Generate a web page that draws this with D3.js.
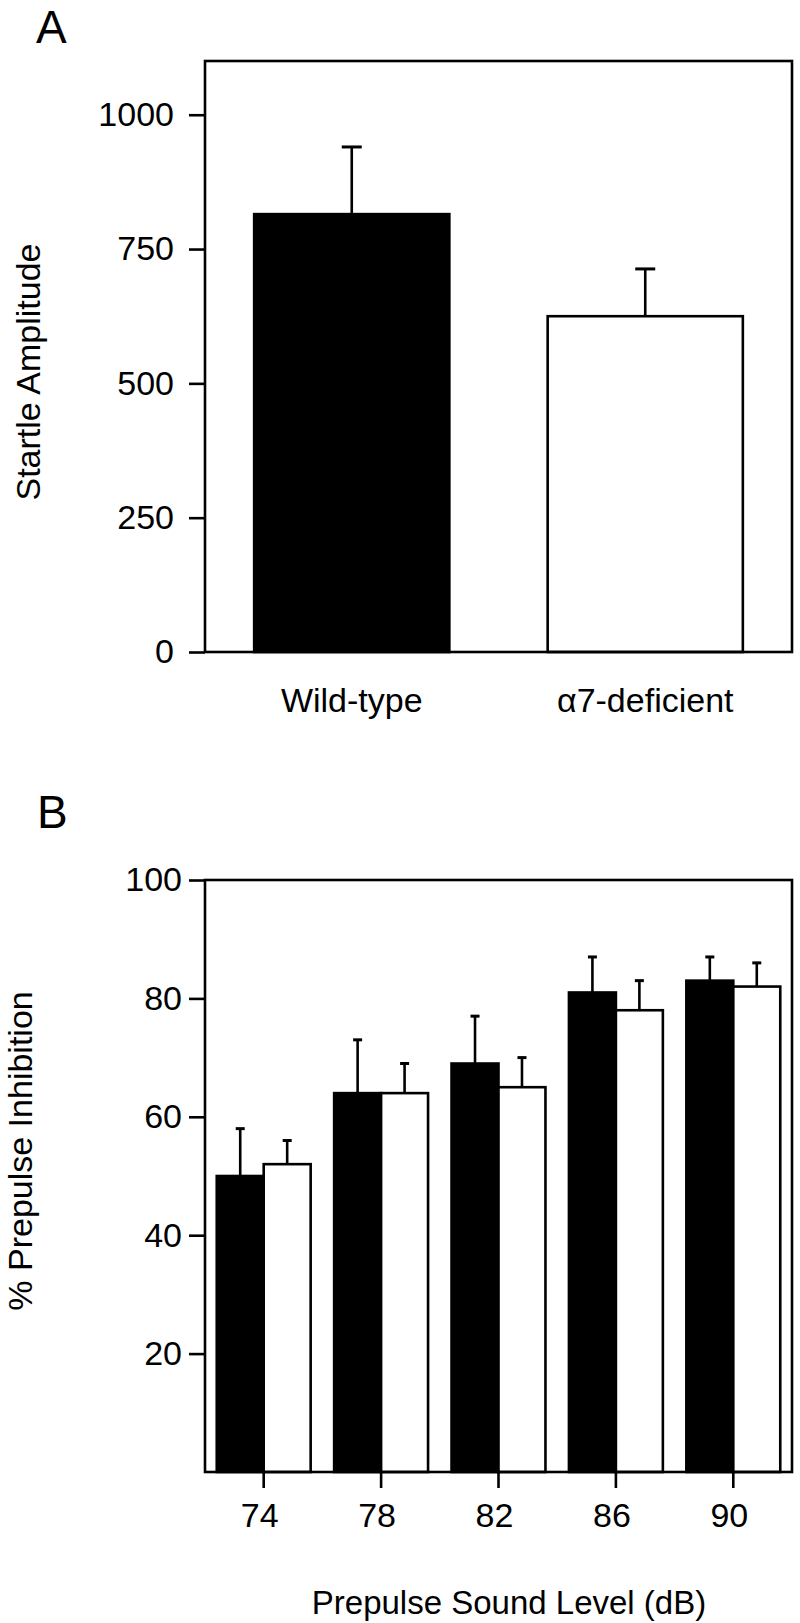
<!DOCTYPE html>
<html>
<head>
<meta charset="utf-8">
<script src="https://cdn.jsdelivr.net/npm/d3@7"></script>
<style>
  html, body { margin: 0; padding: 0; background: #fff; }
  svg { display: block; }
  text { font-family: "Liberation Sans", Arial, Helvetica, sans-serif; fill: #000; }
</style>
</head>
<body>
<svg id="chart" width="800" height="1623"></svg>
<script>
// ---- Data ----
const groupsA = ["Wild-type", "\u03B17-deficient"];
const valuesA = [815, 625];
const errorsA = [125, 88];
const ticksA = [0, 250, 500, 750, 1000];

const levelsB = ["74", "78", "82", "86", "90"];
const wildTypeB = [50, 64, 69, 81, 83];
const wildTypeErrB = [8, 9, 8, 6, 4];
const deficientB = [52, 64, 65, 78, 82];
const deficientErrB = [4, 5, 5, 5, 4];
const ticksB = [20, 40, 60, 80, 100];
const seriesB = ["wild", "deficient"];
const fillsB = {wild: "#000", deficient: "#fff"};

const svg = d3.select("#chart");
const SW = 2.6;
const FS = 34;

// ---- Panel A ----
const A = {left: 205, right: 792, top: 61, bottom: 652};
const xA = d3.scaleBand().domain(groupsA).range([A.left, A.right]).paddingInner(0.335).paddingOuter(0.1675);
const yA = d3.scaleLinear().domain([0, 1100]).range([A.bottom, A.top]);

const gA = svg.append("g");
groupsA.forEach((g, i) => {
  const cx = xA(g) + xA.bandwidth() / 2;
  gA.append("line").attr("x1", cx).attr("x2", cx)
    .attr("y1", yA(valuesA[i])).attr("y2", yA(valuesA[i] + errorsA[i]))
    .attr("stroke", "#000").attr("stroke-width", SW);
  gA.append("line").attr("x1", cx - 10).attr("x2", cx + 10)
    .attr("y1", yA(valuesA[i] + errorsA[i])).attr("y2", yA(valuesA[i] + errorsA[i]))
    .attr("stroke", "#000").attr("stroke-width", 3);
});
gA.selectAll("rect.bar").data(groupsA).join("rect").attr("class", "bar")
  .attr("x", d => xA(d)).attr("width", xA.bandwidth())
  .attr("y", (d, i) => yA(valuesA[i])).attr("height", (d, i) => yA(0) - yA(valuesA[i]))
  .attr("fill", (d, i) => i === 0 ? "#000" : "#fff")
  .attr("stroke", "#000").attr("stroke-width", SW);

gA.append("rect").attr("x", A.left).attr("y", A.top)
  .attr("width", A.right - A.left).attr("height", A.bottom - A.top)
  .attr("fill", "none").attr("stroke", "#000").attr("stroke-width", SW);

const axA = gA.append("g").attr("transform", `translate(${A.left},0)`)
  .call(d3.axisLeft(yA).tickValues(ticksA).tickFormat(d3.format("d")).tickSize(16).tickPadding(15));
axA.select(".domain").remove();
axA.selectAll(".tick line").attr("stroke-width", SW);
axA.selectAll(".tick text").attr("font-size", FS).attr("font-family", null);

const axAx = gA.append("g").attr("transform", `translate(0,${A.bottom})`)
  .call(d3.axisBottom(xA).tickSize(0).tickPadding(36));
axAx.select(".domain").remove();
axAx.selectAll(".tick text").attr("font-size", FS).attr("font-family", null);

gA.append("text").attr("transform", "translate(40,372) rotate(-90)")
  .attr("text-anchor", "middle").attr("font-size", FS).text("Startle Amplitude");
svg.append("text").attr("x", 36).attr("y", 43).attr("font-size", 46).text("A");

// ---- Panel B ----
const B = {left: 205, right: 792, top: 880, bottom: 1472};
const xB = d3.scaleBand().domain(levelsB).range([B.left, B.right]).paddingInner(0.2).paddingOuter(0.1);
const xBs = d3.scaleBand().domain(seriesB).range([0, xB.bandwidth()]);
const yB = d3.scaleLinear().domain([0, 100]).range([B.bottom, B.top]);

const rowsB = levelsB.map((l, i) => ({
  level: l,
  items: [
    {s: "wild", v: wildTypeB[i], e: wildTypeErrB[i]},
    {s: "deficient", v: deficientB[i], e: deficientErrB[i]}
  ]
}));

const gB = svg.append("g");
const grp = gB.selectAll("g.grp").data(rowsB).join("g").attr("class", "grp")
  .attr("transform", d => `translate(${xB(d.level)},0)`);
grp.each(function(d) {
  const g = d3.select(this);
  d.items.forEach(it => {
    const cx = xBs(it.s) + xBs.bandwidth() / 2;
    g.append("line").attr("x1", cx).attr("x2", cx)
      .attr("y1", yB(it.v)).attr("y2", yB(it.v + it.e))
      .attr("stroke", "#000").attr("stroke-width", SW);
    g.append("line").attr("x1", cx - 4.5).attr("x2", cx + 4.5)
      .attr("y1", yB(it.v + it.e)).attr("y2", yB(it.v + it.e))
      .attr("stroke", "#000").attr("stroke-width", 3);
  });
  g.selectAll("rect").data(d.items).join("rect")
    .attr("x", it => xBs(it.s)).attr("width", xBs.bandwidth())
    .attr("y", it => yB(it.v)).attr("height", it => yB(0) - yB(it.v))
    .attr("fill", it => fillsB[it.s]).attr("stroke", "#000").attr("stroke-width", SW);
});

gB.append("rect").attr("x", B.left).attr("y", B.top)
  .attr("width", B.right - B.left).attr("height", B.bottom - B.top)
  .attr("fill", "none").attr("stroke", "#000").attr("stroke-width", SW);

const axB = gB.append("g").attr("transform", `translate(${B.left},0)`)
  .call(d3.axisLeft(yB).tickValues(ticksB).tickSize(16).tickPadding(7));
axB.select(".domain").remove();
axB.selectAll(".tick line").attr("stroke-width", SW);
axB.selectAll(".tick text").attr("font-size", FS).attr("font-family", null);

const axBx = gB.append("g").attr("transform", `translate(0,${B.bottom})`)
  .call(d3.axisBottom(xB).tickSize(16).tickPadding(15));
axBx.select(".domain").remove();
axBx.selectAll(".tick line").attr("stroke-width", SW);
axBx.selectAll(".tick text").attr("font-size", FS).attr("font-family", null).attr("dx", -4);

gB.append("text").attr("transform", "translate(32,1151) rotate(-90)")
  .attr("text-anchor", "middle").attr("font-size", FS).text("% Prepulse Inhibition");
gB.append("text").attr("x", 509).attr("y", 1614).attr("text-anchor", "middle")
  .attr("font-size", 33).text("Prepulse Sound Level (dB)");
svg.append("text").attr("x", 37).attr("y", 828).attr("font-size", 46).text("B");
</script>
</body>
</html>
